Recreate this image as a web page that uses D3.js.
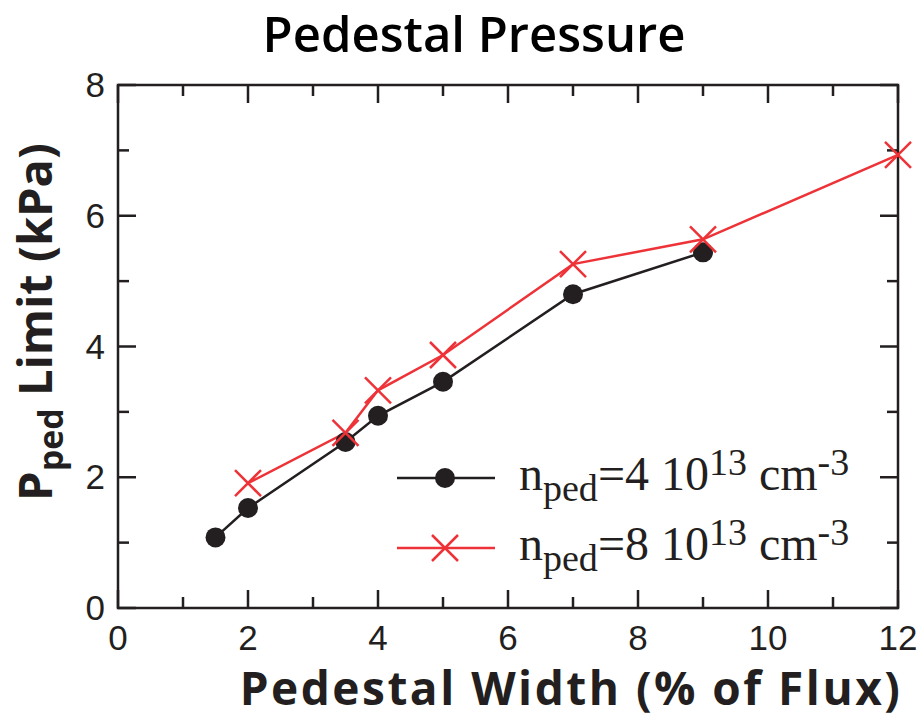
<!DOCTYPE html>
<html><head><meta charset="utf-8">
<script src="https://cdn.jsdelivr.net/npm/d3@7"></script>
<style>body{margin:0;background:#fff}svg{display:block}</style>
</head><body>
<script>
const xTicks=[0,2,4,6,8,10,12];
const yTicks=[0,2,4,6,8];
const seriesNames=["n_ped=4","n_ped=8"];
const xLow=[1.5,2,3.5,4,5,7,9];
const yLow=[1.08,1.53,2.54,2.94,3.46,4.80,5.44];
const xHigh=[2,3.5,4,5,7,9,12];
const yHigh=[1.91,2.68,3.33,3.87,5.26,5.64,6.93];

const W=920,H=719;
const m={l:118,r:22,t:85,b:111};
const svg=d3.select("body").append("svg").attr("width",W).attr("height",H);
const x=d3.scaleLinear().domain([0,12]).range([m.l,W-m.r]);
const y=d3.scaleLinear().domain([0,8]).range([H-m.b,m.t]);
const ink="#231f20",red="#ee3338";

// frame
svg.append("rect").attr("x",x(0)).attr("y",y(8)).attr("width",x(12)-x(0)).attr("height",y(0)-y(8))
  .attr("fill","none").attr("stroke",ink).attr("stroke-width",2.5);

// ticks
const xMinor=d3.range(1,12,2), yMinor=d3.range(1,8,2);
const tg=svg.append("g").attr("stroke",ink).attr("stroke-width",2.5);
xTicks.forEach(v=>{tg.append("line").attr("x1",x(v)).attr("x2",x(v)).attr("y1",y(0)).attr("y2",y(0)-18);
  tg.append("line").attr("x1",x(v)).attr("x2",x(v)).attr("y1",y(8)).attr("y2",y(8)+18);});
xMinor.forEach(v=>{tg.append("line").attr("x1",x(v)).attr("x2",x(v)).attr("y1",y(0)).attr("y2",y(0)-11);
  tg.append("line").attr("x1",x(v)).attr("x2",x(v)).attr("y1",y(8)).attr("y2",y(8)+11);});
yTicks.forEach(v=>{tg.append("line").attr("y1",y(v)).attr("y2",y(v)).attr("x1",x(0)).attr("x2",x(0)+18);
  tg.append("line").attr("y1",y(v)).attr("y2",y(v)).attr("x1",x(12)).attr("x2",x(12)-18);});
yMinor.forEach(v=>{tg.append("line").attr("y1",y(v)).attr("y2",y(v)).attr("x1",x(0)).attr("x2",x(0)+11);
  tg.append("line").attr("y1",y(v)).attr("y2",y(v)).attr("x1",x(12)).attr("x2",x(12)-11);});

// tick labels
const tf="'Liberation Sans',Arial,sans-serif";
svg.append("g").selectAll("text").data(xTicks).join("text")
  .attr("x",d=>x(d)).attr("y",y(0)+42).attr("text-anchor","middle")
  .attr("font-family",tf).attr("font-size",35).attr("fill",ink).text(d=>d);
svg.append("g").selectAll("text").data(yTicks).join("text")
  .attr("x",x(0)-13).attr("y",d=>y(d)+12).attr("text-anchor","end")
  .attr("font-family",tf).attr("font-size",35).attr("fill",ink).text(d=>d);

// lines
const lowPts=xLow.map((v,i)=>[v,yLow[i]]);
const highPts=xHigh.map((v,i)=>[v,yHigh[i]]);
const line=d3.line().x(d=>x(d[0])).y(d=>y(d[1]));
svg.append("path").datum(lowPts).attr("d",line).attr("fill","none").attr("stroke",ink).attr("stroke-width",2.5);
svg.append("path").datum(highPts).attr("d",line).attr("fill","none").attr("stroke",red).attr("stroke-width",2.5);
svg.append("g").selectAll("circle").data(lowPts).join("circle")
  .attr("cx",d=>x(d[0])).attr("cy",d=>y(d[1])).attr("r",10).attr("fill",ink);
const cross=(g,cx,cy,s)=>{g.append("path").attr("d",`M${cx-s},${cy-s}L${cx+s},${cy+s}M${cx-s},${cy+s}L${cx+s},${cy-s}`)
  .attr("stroke",red).attr("stroke-width",2.5).attr("fill","none");};
const cg=svg.append("g");
highPts.forEach(d=>cross(cg,x(d[0]),y(d[1]),13));

// legend
const lg=svg.append("g");
const lf="'Liberation Serif','Times New Roman',serif";
[[ink,"4",478],[red,"8",548]].forEach(([c,n,ly],i)=>{
  lg.append("line").attr("x1",397).attr("x2",495).attr("y1",ly).attr("y2",ly).attr("stroke",c).attr("stroke-width",2.5);
  if(i===0) lg.append("circle").attr("cx",445).attr("cy",ly).attr("r",10).attr("fill",ink);
  else cross(lg,445,ly,13);
  const t=lg.append("text").attr("x",519).attr("y",ly+12).attr("font-family",lf).attr("font-size",48).attr("fill",ink);
  t.append("tspan").text("n");
  t.append("tspan").attr("dy",11).attr("font-size",38).text("ped");
  t.append("tspan").attr("dy",-11).text("=" + n + " 10");
  t.append("tspan").attr("dy",-15).attr("font-size",38).text("13");
  t.append("tspan").attr("dy",15).text(" cm");
  t.append("tspan").attr("dy",-15).attr("font-size",38).text("-3");
});

// titles
const hf="'Open Sans','Noto Sans',sans-serif";
svg.append("text").attr("x",474).attr("y",52).attr("text-anchor","middle").attr("font-family",hf)
  .attr("font-weight",600).attr("font-size",49).attr("fill","#000").text("Pedestal Pressure");
svg.append("text").attr("x",571).attr("y",705).attr("text-anchor","middle").attr("font-family",hf)
  .attr("font-weight",700).attr("font-size",46).attr("letter-spacing",2.5).attr("fill","#231f20").text("Pedestal Width (% of Flux)");
const yl=svg.append("text").attr("transform","translate(52,322) rotate(-90)").attr("text-anchor","middle")
  .attr("font-family",hf).attr("font-weight",700).attr("font-size",47).attr("fill","#231f20");
yl.append("tspan").text("P");
yl.append("tspan").attr("dy",11).attr("font-size",34).text("ped");
yl.append("tspan").attr("dy",-11).text(" Limit (kPa)");
</script>
</body></html>
